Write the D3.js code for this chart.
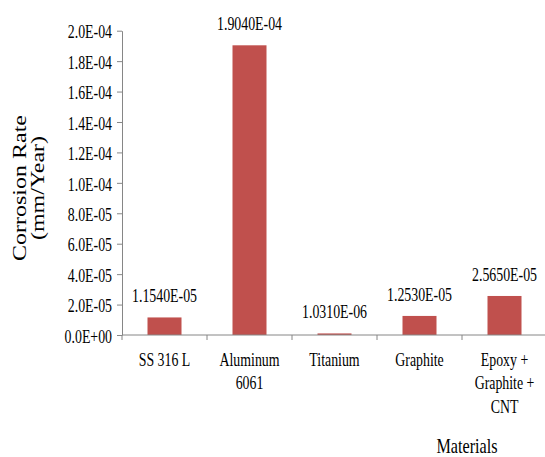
<!DOCTYPE html>
<html>
<head>
<meta charset="utf-8">
<script src="https://cdn.jsdelivr.net/npm/d3@7"></script>
<style>
  html, body { margin: 0; padding: 0; background: #fff; }
  svg { display: block; }
</style>
</head>
<body>
<svg id="chart" width="545" height="457"></svg>
<script>
// Corrosion rate per material (mm/year)
const materials = ["SS 316 L", "Aluminum 6061", "Titanium", "Graphite", "Epoxy + Graphite + CNT"];
const categoryLines = [["SS 316 L"], ["Aluminum", "6061"], ["Titanium"], ["Graphite"], ["Epoxy +", "Graphite +", "CNT"]];
const corrosionRate = [1.154e-5, 1.904e-4, 1.031e-6, 1.253e-5, 2.565e-5];
const yTicks = [0, 2e-5, 4e-5, 6e-5, 8e-5, 1e-4, 1.2e-4, 1.4e-4, 1.6e-4, 1.8e-4, 2e-4];
const yTitleLines = ["Corrosion Rate", "(mm/Year)"];
const xTitle = "Materials";

const FONT = "'Liberation Serif', 'Times New Roman', Times, serif";
const SX = 0.77;              // horizontal condensing of all lettering
const axisColor = "#868686";
const barColor = "#C0504D";

const svg = d3.select("#chart");

const plot = { left: 122, right: 547, top: 30.7, bottom: 335 };

const y = d3.scaleLinear().domain([0, 2e-4]).range([plot.bottom, plot.top]);
const x = d3.scaleBand().domain(materials).range([plot.left, plot.right])
  .paddingInner(0.6).paddingOuter(0.3);

// Scientific notation like 2.0E-04
function sci(v, digits) {
  const [m, e] = v.toExponential(digits).split("e");
  const n = +e;
  return m + "E" + (n < 0 ? "-" : "+") + String(Math.abs(n)).padStart(2, "0");
}

// Bars
svg.append("g").selectAll("rect")
  .data(materials)
  .join("rect")
  .attr("x", d => x(d))
  .attr("width", x.bandwidth())
  .attr("y", (d, i) => y(corrosionRate[i]))
  .attr("height", (d, i) => y(0) - y(corrosionRate[i]))
  .attr("fill", barColor);

// Value labels above bars
svg.append("g").selectAll("text")
  .data(materials)
  .join("text")
  .style("font-family", FONT)
  .attr("text-anchor", "middle")
  .attr("font-size", 18)
  .attr("transform", (d, i) => `translate(${x(d) + x.bandwidth() / 2},${y(corrosionRate[i]) - 15}) scale(${SX},1)`)
  .text((d, i) => sci(corrosionRate[i], 4));

// Y axis
const yAxis = svg.append("g")
  .attr("transform", `translate(${plot.left},0)`)
  .call(d3.axisLeft(y).tickValues(yTicks).tickSize(5).tickSizeOuter(0).tickFormat(d => sci(d, 1)));
yAxis.attr("font-family", null);
yAxis.select(".domain").attr("stroke", axisColor);
yAxis.selectAll(".tick line").attr("stroke", axisColor);
yAxis.selectAll(".tick text")
  .style("font-family", FONT)
  .attr("font-size", 18)
  .attr("fill", "#000")
  .attr("x", -10 / SX)
  .attr("dy", "0.4em")
  .attr("transform", `scale(${SX},1)`);

// X axis line with ticks at category boundaries
const xg = svg.append("g");
xg.append("line")
  .attr("x1", plot.left).attr("x2", plot.right)
  .attr("y1", plot.bottom).attr("y2", plot.bottom)
  .attr("stroke", axisColor);
const step = x.step();
const bounds = d3.range(materials.length + 1).map(i => plot.left + i * step);
xg.selectAll("line.tk")
  .data(bounds)
  .join("line")
  .attr("class", "tk")
  .attr("x1", d => d).attr("x2", d => d)
  .attr("y1", plot.bottom).attr("y2", plot.bottom + 5)
  .attr("stroke", axisColor);

// Category labels
const cat = xg.selectAll("text.cat")
  .data(materials)
  .join("text")
  .attr("class", "cat")
  .style("font-family", FONT)
  .attr("text-anchor", "middle")
  .attr("font-size", 18)
  .attr("transform", d => `translate(${x(d) + x.bandwidth() / 2},366) scale(${SX},1)`);
cat.selectAll("tspan")
  .data((d, i) => categoryLines[i])
  .join("tspan")
  .attr("x", 0)
  .attr("dy", (d, j) => j === 0 ? 0 : 23.5)
  .text(d => d);

// Axis titles
const yt = svg.append("text")
  .style("font-family", FONT)
  .attr("text-anchor", "middle")
  .attr("font-size", 24)
  .attr("transform", `translate(26,188) scale(${SX},1) rotate(-90)`);
yt.selectAll("tspan")
  .data(yTitleLines)
  .join("tspan")
  .attr("x", 0)
  .attr("dy", (d, j) => j === 0 ? 0 : 24)
  .text(d => d);

svg.append("text")
  .style("font-family", FONT)
  .attr("text-anchor", "middle")
  .attr("font-size", 21)
  .attr("transform", `translate(467,453) scale(${SX},1)`)
  .text(xTitle);
</script>
</body>
</html>
